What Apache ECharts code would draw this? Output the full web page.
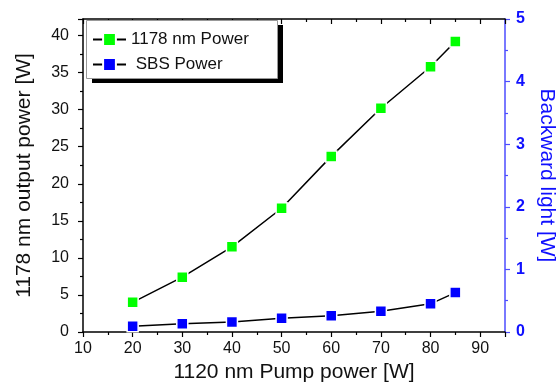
<!DOCTYPE html>
<html>
<head>
<meta charset="utf-8">
<script src="https://cdn.jsdelivr.net/npm/echarts@6/dist/echarts.min.js"></script>
<style>
html,body{margin:0;padding:0;background:#fff;}
#chart{width:559px;height:384px;}
</style>
</head>
<body>
<div id="chart"></div>
<script>
const pumpPower = [20, 30, 40, 50, 60, 70, 80, 85];
const outputPower1178 = [4.0, 7.4, 11.5, 16.7, 23.7, 30.2, 35.8, 39.2];
const sbsPower = [0.09, 0.13, 0.16, 0.22, 0.26, 0.33, 0.45, 0.63];

const FONT = '"Liberation Sans", Arial, sans-serif';
const BLUE = '#1010ff';
const AXBLUE = '#4d4dff';

const chart = echarts.init(document.getElementById('chart'), null, {renderer: 'canvas'});
chart.setOption({
  animation: false,
  backgroundColor: '#fff',
  textStyle: {fontFamily: FONT},
  grid: {left: 83, right: 54, top: 19, bottom: 52, containLabel: false, outerBoundsMode: 'none'},
  graphic: [
    {type: 'rect', left: 92, top: 25, z: 5, shape: {width: 191, height: 58}, style: {fill: '#000'}},
    {type: 'rect', left: 86, top: 20, z: 6, shape: {width: 191, height: 58}, style: {fill: '#fff', stroke: '#999', lineWidth: 1}}
  ],
  legend: {
    orient: 'vertical',
    left: 86, top: 20, z: 10,
    padding: [11, 30, 7, 6],
    itemWidth: 33, itemHeight: 16, itemGap: 8,
    textStyle: {fontFamily: FONT, fontSize: 17, color: '#111', lineHeight: 16},
    data: ['1178 nm Power', ' SBS Power']
  },
  xAxis: [{
    type: 'value', position: 'bottom', min: 10, max: 95, interval: 10,
    name: '1120 nm Pump power [W]', nameLocation: 'middle', nameGap: 30,
    nameTextStyle: {fontFamily: FONT, fontSize: 21, color: '#111'},
    axisLine: {show: true, onZero: false, lineStyle: {color: '#000', width: 1.5}},
    axisTick: {show: true, inside: false, length: 5, lineStyle: {color: '#000', width: 1.2}},
    minorTick: {show: true, splitNumber: 2, length: 3, lineStyle: {color: '#000', width: 1.2}},
    axisLabel: {fontFamily: FONT, fontSize: 16, color: '#111', margin: 9, showMaxLabel: false},
    splitLine: {show: false}
  }, {
    type: 'value', position: 'top', min: 10, max: 95, interval: 10,
    axisLine: {show: true, onZero: false, lineStyle: {color: '#000', width: 1.5}},
    axisTick: {show: true, inside: true, length: 5, lineStyle: {color: '#000', width: 1.2}},
    minorTick: {show: true, splitNumber: 2, length: 3, lineStyle: {color: '#000', width: 1.2}},
    axisLabel: {show: false},
    splitLine: {show: false}
  }],
  yAxis: [{
    type: 'value', position: 'left', min: 0, max: 42.24, interval: 5,
    name: '1178 nm output power [W]', nameLocation: 'middle', nameGap: 48,
    nameTextStyle: {fontFamily: FONT, fontSize: 21, color: '#111'},
    axisLine: {show: true, onZero: false, lineStyle: {color: '#000', width: 1.5}},
    axisTick: {show: true, inside: false, length: 5, lineStyle: {color: '#000', width: 1.2}},
    minorTick: {show: true, splitNumber: 2, length: 3, lineStyle: {color: '#000', width: 1.2}},
    axisLabel: {fontFamily: FONT, fontSize: 16, color: '#111', margin: 14, showMaxLabel: false},
    splitLine: {show: false}
  }, {
    type: 'value', position: 'right', min: 0, max: 5, interval: 1,
    name: 'Backward light [W]', nameLocation: 'middle', nameGap: 28, nameRotate: -90,
    nameTextStyle: {fontFamily: FONT, fontSize: 21, color: BLUE},
    axisLine: {show: true, onZero: false, lineStyle: {color: AXBLUE, width: 1.5}},
    axisTick: {show: true, inside: false, length: 5, lineStyle: {color: AXBLUE, width: 1.2}},
    minorTick: {show: true, splitNumber: 2, length: 3, lineStyle: {color: AXBLUE, width: 1.2}},
    axisLabel: {fontFamily: FONT, fontSize: 16, fontWeight: 'bold', color: BLUE, margin: 11},
    splitLine: {show: false}
  }],
  series: [{
    name: '1178 nm Power', type: 'line', xAxisIndex: 0, yAxisIndex: 0,
    data: pumpPower.map((x, i) => [x, outputPower1178[i]]),
    symbol: 'rect', symbolSize: 11,
    lineStyle: {color: '#000', width: 1.5},
    itemStyle: {color: '#00ff00', borderColor: '#fff', borderWidth: 1.5},
    z: 3
  }, {
    name: ' SBS Power', type: 'line', xAxisIndex: 0, yAxisIndex: 1,
    data: pumpPower.map((x, i) => [x, sbsPower[i]]),
    symbol: 'rect', symbolSize: 11,
    lineStyle: {color: '#000', width: 1.5},
    itemStyle: {color: '#0000ff', borderColor: '#fff', borderWidth: 1.5},
    z: 3
  }]
});
</script>
</body>
</html>
